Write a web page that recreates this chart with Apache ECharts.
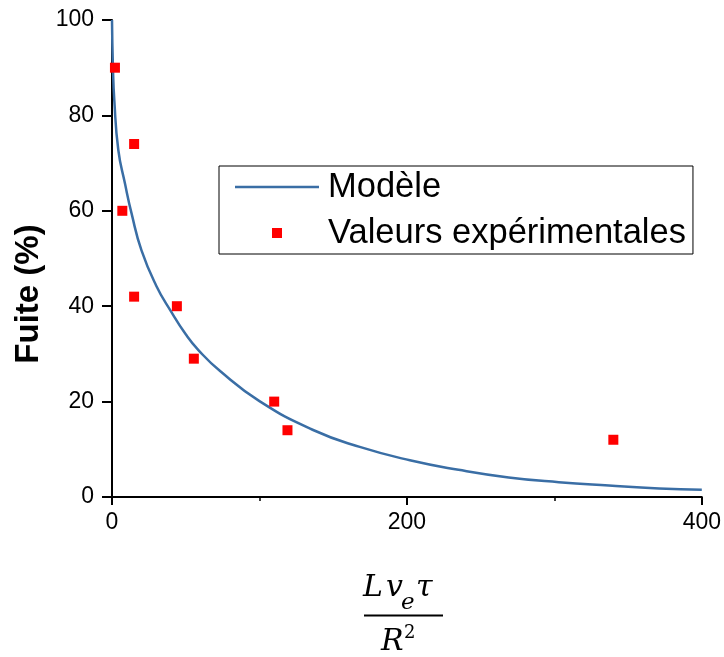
<!DOCTYPE html>
<html>
<head>
<meta charset="utf-8">
<script src="https://cdn.jsdelivr.net/npm/echarts@6/dist/echarts.min.js"></script>
<style>html,body{margin:0;padding:0;background:#fff;}#c{width:724px;height:657px;}</style>
</head>
<body>
<div id="c"></div>
<script>
// Model curve
var modelX = [0, 0.6, 1.6, 4.3, 8.8, 13.3, 20, 30, 40, 50, 58.6, 73.3, 100, 136, 168, 202, 235, 269, 303, 337, 371, 400];
var modelY = [100, 90.5, 83, 72.7, 65.7, 59.4, 51.7, 44.3, 38.9, 34.1, 30.8, 26.4, 20.1, 14.1, 10.5, 7.7, 5.7, 4.1, 3.1, 2.4, 1.8, 1.5];
// Experimental values
var expX = [2, 7, 15, 15, 44, 55.5, 110, 119, 340];
var expY = [90, 60, 74, 42, 40, 29, 20, 14, 12];
var seriesNames = ['Modèle', 'Valeurs expérimentales'];
var yTitle = 'Fuite (%)';

var chart = echarts.init(document.getElementById('c'), null, {renderer: 'canvas'});
var SANS = 'Liberation Sans, Arial, sans-serif';
var SERIF = 'DejaVu Serif, serif';
function pairs(xs, ys) { return xs.map(function (x, i) { return [x, ys[i]]; }); }

chart.setOption({
  animation: false,
  backgroundColor: '#fff',
  grid: {left: 112, right: 21, top: 20, bottom: 160, containLabel: false},
  legend: {
    orient: 'vertical',
    left: 219, top: 166,
    data: [
      {name: seriesNames[0], icon: 'path://M0,0L84,0L84,2.5L0,2.5Z'},
      {name: seriesNames[1], icon: 'path://M0,0L10,0L10,10L0,10Z'}
    ],
    symbolKeepAspect: true,
    itemWidth: 84, itemHeight: 10, itemGap: 10,
    padding: [3, 7, 3, 16],
    borderColor: '#000', borderWidth: 1, backgroundColor: '#fff',
    textStyle: {fontFamily: SANS, fontSize: 34.5, color: '#000', lineHeight: 36, padding: [0, 0, 0, 4]}
  },
  xAxis: {
    type: 'value', min: 0, max: 400, interval: 200,
    axisLine: {onZero: false, lineStyle: {color: '#000', width: 2}},
    axisTick: {show: true, length: 8, lineStyle: {color: '#000', width: 2}},
    minorTick: {show: true, splitNumber: 2, length: 4, lineStyle: {color: '#000', width: 1.5}},
    splitLine: {show: false},
    axisLabel: {fontFamily: SANS, fontSize: 23, color: '#000', margin: 14}
  },
  yAxis: {
    type: 'value', min: 0, max: 100, interval: 20,
    axisLine: {show: true, onZero: false, lineStyle: {color: '#000', width: 2}},
    axisTick: {show: true, length: 10, lineStyle: {color: '#000', width: 2}},
    splitLine: {show: false},
    axisLabel: {fontFamily: SANS, fontSize: 23, color: '#000', margin: 18}
  },
  series: [
    {
      name: seriesNames[0], type: 'line', data: pairs(modelX, modelY),
      symbol: 'none', smooth: 0.5, clip: true,
      lineStyle: {color: '#3A6EA5', width: 2.5}, itemStyle: {color: '#3A6EA5'}, z: 2
    },
    {
      name: seriesNames[1], type: 'scatter', data: pairs(expX, expY),
      symbol: 'rect', symbolSize: 10, itemStyle: {color: '#FF0000', opacity: 1}, z: 3
    }
  ],
  graphic: [
    {type: 'text', x: 28.5, y: 294, rotation: Math.PI / 2,
      style: {text: yTitle, font: 'bold 33px ' + SANS, fill: '#000', textAlign: 'center', textVerticalAlign: 'middle'}},
    {type: 'text', x: 363, y: 588.5, style: {text: 'L', font: 'italic 30px ' + SERIF, fill: '#000', textAlign: 'left', textVerticalAlign: 'middle'}},
    {type: 'text', x: 386, y: 588.5, style: {text: 'v', font: 'italic 30px ' + SERIF, fill: '#000', textAlign: 'left', textVerticalAlign: 'middle'}},
    {type: 'text', x: 401, y: 603, style: {text: 'e', font: 'italic 23px ' + SERIF, fill: '#000', textAlign: 'left', textVerticalAlign: 'middle'}},
    {type: 'text', x: 416, y: 588.5, style: {text: 'τ', font: 'italic 30px ' + SERIF, fill: '#000', textAlign: 'left', textVerticalAlign: 'middle'}},
    {type: 'line', shape: {x1: 364, y1: 615.5, x2: 443, y2: 615.5}, style: {stroke: '#000', lineWidth: 2}},
    {type: 'text', x: 381, y: 642.5, style: {text: 'R', font: 'italic 30px ' + SERIF, fill: '#000', textAlign: 'left', textVerticalAlign: 'middle'}},
    {type: 'text', x: 404, y: 633, style: {text: '2', font: '18px ' + SERIF, fill: '#000', textAlign: 'left', textVerticalAlign: 'middle'}}
  ]
});
</script>
</body>
</html>
